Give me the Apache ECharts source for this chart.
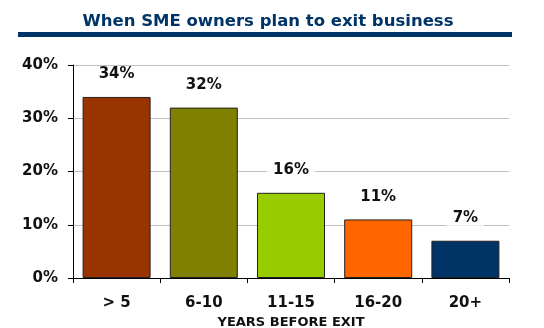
<!DOCTYPE html>
<html>
<head>
<meta charset="utf-8">
<script src="https://cdn.jsdelivr.net/npm/echarts@6/dist/echarts.min.js"></script>
<style>
  html, body { margin: 0; padding: 0; background: #fff; }
  #chart { width: 544px; height: 328px; }
</style>
</head>
<body>
<div id="chart"></div>
<script>
// Share of SME owners by years remaining before they plan to exit
const categories = ['> 5', '6-10', '11-15', '16-20', '20+'];
const shares = [34, 32, 16, 11, 7];
const barColors = ['#993300', '#808000', '#99CC00', '#FF6600', '#003366'];
const yTicks = [0, 10, 20, 30, 40];

const font = 'Verdana, "DejaVu Sans", sans-serif';
const navy = '#003366';

const chart = echarts.init(document.getElementById('chart'), null, { renderer: 'canvas' });

chart.setOption({
  animation: false,
  backgroundColor: '#ffffff',
  title: {
    text: 'When SME owners plan to exit business',
    left: 263,
    textAlign: 'center',
    top: 8,
    textStyle: { color: navy, fontFamily: font, fontWeight: 'bold', fontSize: 16.5 }
  },
  graphic: [{
    type: 'rect',
    shape: { x: 18, y: 32, width: 494, height: 5 },
    style: { fill: navy }
  }],
  grid: { left: 73, right: 35, top: 65, bottom: 50, containLabel: false, outerBoundsMode: 'none' },
  xAxis: {
    type: 'category',
    data: categories,
    name: 'YEARS BEFORE EXIT',
    nameLocation: 'middle',
    nameGap: 36,
    nameTextStyle: { color: '#111', fontFamily: font, fontWeight: 'bold', fontSize: 13 },
    axisLine: { lineStyle: { color: '#000', width: 1 } },
    axisTick: { show: true, length: 5, inside: false, lineStyle: { color: '#000' } },
    axisLabel: { color: '#111', fontFamily: font, fontWeight: 'bold', fontSize: 15, margin: 18 }
  },
  yAxis: {
    type: 'value',
    min: yTicks[0],
    max: yTicks[yTicks.length - 1],
    interval: 10,
    axisLine: { show: true, lineStyle: { color: '#000', width: 1 } },
    axisTick: { show: true, length: 5, lineStyle: { color: '#000' } },
    splitLine: { show: true, lineStyle: { color: '#c0c0c0', width: 1 } },
    axisLabel: {
      color: '#111', fontFamily: font, fontWeight: 'bold', fontSize: 15, margin: 15,
      formatter: v => v + '%'
    }
  },
  series: [{
    type: 'bar',
    data: shares.map((v, i) => ({ value: v, itemStyle: { color: barColors[i] } })),
    barWidth: '78%',
    itemStyle: { borderColor: '#222', borderWidth: 1 },
    label: {
      show: true,
      position: 'top',
      distance: 15,
      formatter: p => p.value + '%',
      color: '#111',
      fontFamily: font,
      fontWeight: 'bold',
      fontSize: 15,
      backgroundColor: '#ffffff',
      padding: [0, 6]
    }
  }]
});
</script>
</body>
</html>
